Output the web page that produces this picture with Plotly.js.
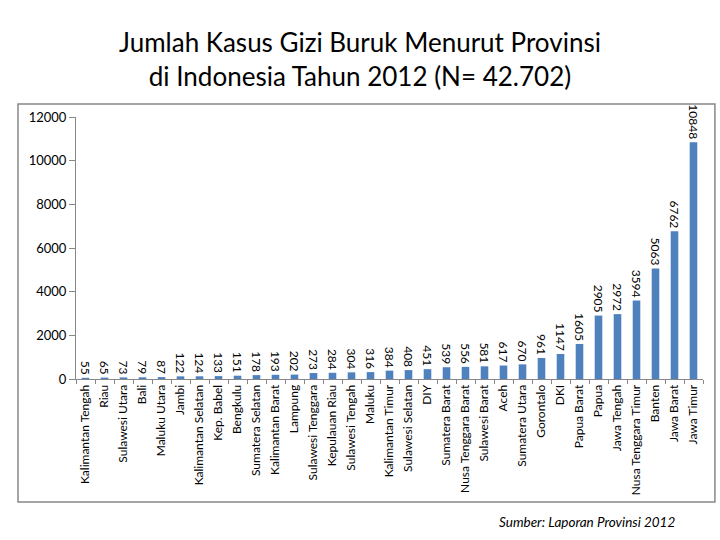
<!DOCTYPE html>
<html>
<head>
<meta charset="utf-8">
<script src="https://cdn.plot.ly/plotly-3.0.1.min.js"></script>
<style>html,body{margin:0;padding:0;background:#fff;}#chart{width:720px;height:540px;}</style>
</head>
<body>
<div id="chart"></div>
<script>
const provinces = ["Kalimantan Tengah","Riau","Sulawesi Utara","Bali","Maluku Utara","Jambi","Kalimantan Selatan","Kep. Babel","Bengkulu","Sumatera Selatan","Kalimantan Barat","Lampung","Sulawesi Tenggara","Kepulauan Riau","Sulawesi Tengah","Maluku","Kalimantan Timur","Sulawesi Selatan","DIY","Sumatera Barat","Nusa Tenggara Barat","Sulawesi Barat","Aceh","Sumatera Utara","Gorontalo","DKI","Papua Barat","Papua","Jawa Tengah","Nusa Tenggara Timur","Banten","Jawa Barat","Jawa Timur"];
const cases = [55,65,73,79,87,122,124,133,151,178,193,202,273,284,304,316,384,408,451,539,556,581,617,670,961,1147,1605,2905,2972,3594,5063,6762,10848];
const yTicks = [0,2000,4000,6000,8000,10000,12000];

const trace = {
  type: 'bar',
  x: provinces,
  y: cases,
  marker: {color: '#4F81BD'},
  text: cases.map(String),
  textposition: 'outside',
  textangle: 90,
  constraintext: 'none',
  cliponaxis: false,
  textfont: {family: 'Lato, sans-serif', size: 12, color: '#000'},
  hoverinfo: 'none'
};

const layout = {
  width: 720, height: 540,
  margin: {l: 76, r: 17, t: 117, b: 161},
  paper_bgcolor: '#fff', plot_bgcolor: '#fff',
  showlegend: false,
  bargap: 0.6,
  title: {
    text: 'Jumlah Kasus Gizi Buruk Menurut Provinsi<br>di Indonesia Tahun 2012 (N= 42.702)',
    font: {family: 'Lato, sans-serif', size: 26, color: '#000'},
    x: 0.5, xanchor: 'center', y: 0.903, yanchor: 'middle'
  },
  xaxis: {
    type: 'category',
    tickangle: -90,
    tickfont: {family: 'Lato, sans-serif', size: 12, color: '#000'},
    showline: true, linecolor: '#888', linewidth: 1,
    ticks: 'outside', tickson: 'boundaries', ticklen: 4, tickcolor: '#888',
    showgrid: false, zeroline: false, automargin: false
  },
  yaxis: {
    range: [0, 12000],
    tickvals: yTicks,
    ticktext: yTicks.map(String),
    tickfont: {family: 'Lato, sans-serif', size: 13, color: '#000'},
    showline: true, linecolor: '#888', linewidth: 1,
    ticks: 'outside', ticklen: 6, tickcolor: '#888',
    showgrid: false, zeroline: false, automargin: false
  },
  shapes: [{
    type: 'rect', xref: 'paper', yref: 'paper',
    x0: -0.0925, x1: 1.019, y0: -0.469, y1: 1.0496,
    line: {color: '#888', width: 1.5}, fillcolor: 'rgba(0,0,0,0)'
  }],
  annotations: [{
    text: '<i>Sumber: Laporan Provinsi 2012</i>',
    xref: 'paper', yref: 'paper', x: 0.815, y: -0.546,
    xanchor: 'center', yanchor: 'middle', showarrow: false,
    font: {family: 'Lato, sans-serif', size: 13.5, color: '#000'}
  }]
};

Plotly.newPlot('chart', [trace], layout, {displayModeBar: false, staticPlot: true});
</script>
</body>
</html>
